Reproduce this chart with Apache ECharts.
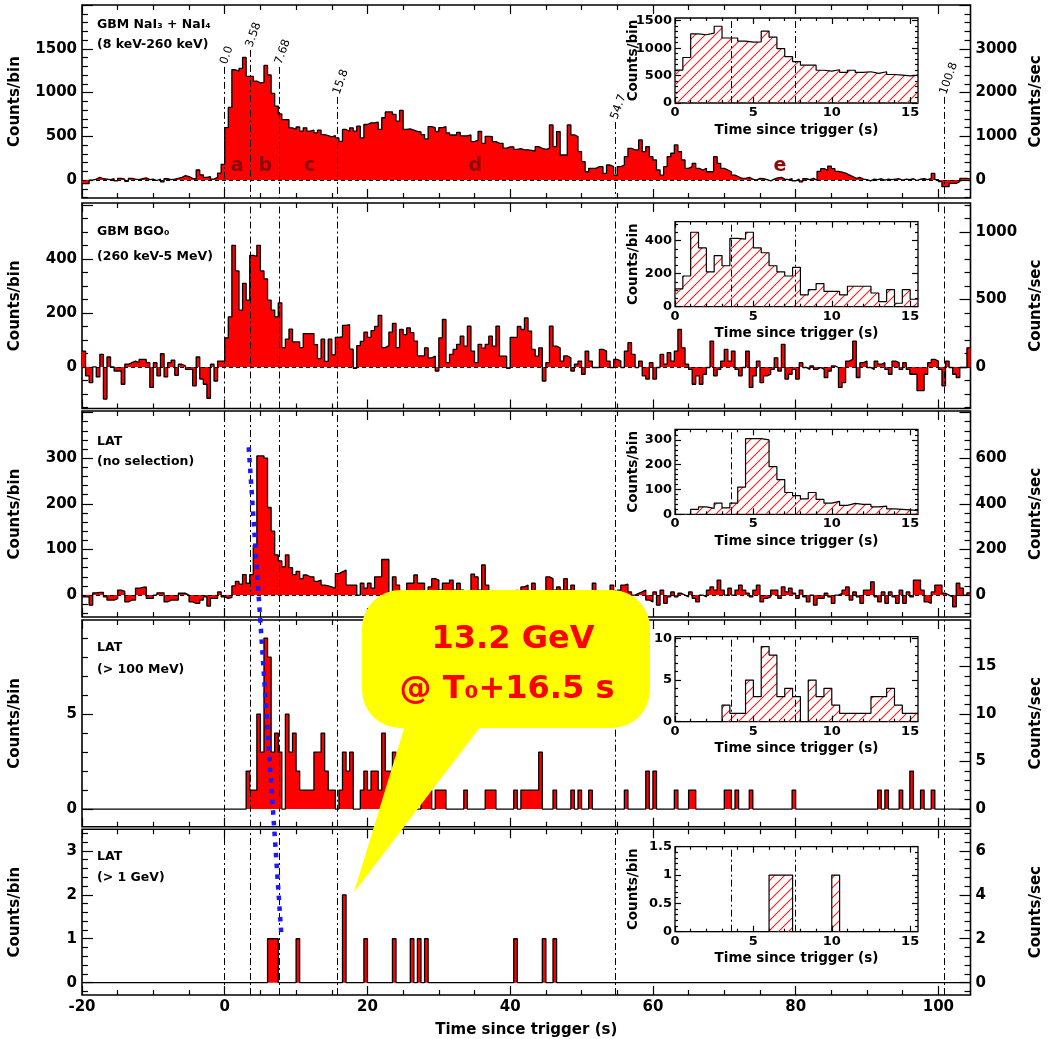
<!DOCTYPE html>
<html>
<head>
<meta charset="utf-8">
<script src="https://cdn.jsdelivr.net/npm/echarts@6/dist/echarts.min.js"></script>
<style>
html, body { margin: 0; padding: 0; background: #fff; }
#main { width: 1059px; height: 1039px; }
</style>
</head>
<body>
<div id="main"></div>
<script>
// light curves, 0.5 s bins starting at -20 s
var T0 = -20, BIN = 0.5, NBIN = 249, TMAX = 104.5;

// GBM NaI3 + NaI4 (8 keV-260 keV), counts/bin
var naiCounts = [
  -40, -40, 0, 10, 30, 15, 10, 5, 15, -10,
  20, 10, -15, 20, 10, 5, 15, 25, 5, 10,
  -5, 10, -20, 15, 5, 10, 20, 30, 50, 40,
  20, 10, 115, 60, 30, 40, 10, 30, 80, 180,
  600, 830, 1260, 1245, 1275, 1400, 1185, 1185, 1130, 1110,
  1115, 1310, 1200, 990, 845, 755, 690, 690, 597, 580,
  606, 560, 597, 558, 570, 539, 570, 520, 508, 493,
  508, 481, 443, 578, 558, 597, 558, 616, 481, 635,
  654, 654, 662, 578, 712, 778, 778, 750, 674, 797,
  578, 585, 570, 555, 550, 520, 470, 610, 600, 555,
  600, 610, 540, 515, 515, 545, 505, 505, 515, 440,
  455, 555, 420, 500, 495, 440, 420, 420, 365, 380,
  380, 350, 360, 345, 345, 340, 330, 382, 363, 351,
  363, 630, 382, 554, 286, 286, 630, 516, 497, 325,
  210, 95, 134, 134, 153, 153, 76, 172, 153, 57,
  153, 172, 267, 363, 344, 344, 458, 325, 382, 267,
  229, 115, 57, 153, 267, 306, 401, 325, 229, 134,
  153, 191, 134, 115, 134, 95, 95, 267, 191, 134,
  115, 95, 57, 38, 19, 19, 30, 11, 0, 19,
  15, 5, -10, 10, 25, 30, 10, 5, 15, -10,
  10, -20, 15, 5, 20, 0, 100, 130, 110, 160,
  130, 100, 90, 80, 60, 40, 20, 30, 10, 5,
  -10, 10, 5, 15, 0, 10, 5, 10, 15, 0,
  10, 5, 15, -5, 10, 15, 5, 20, 76, 5,
  -19, -76, -76, -38, -38, -19, 19, 19, 10
];

// GBM BGO0 (260 keV-5 MeV), counts/bin
var bgoCounts = [
  59, -33, -58, 0, -37, 47, -119, 37, 0, -15,
  -15, -64, 10, 16, 22, 16, 28, 28, 16, -76,
  16, -33, 49, -37, 16, 25, -31, 10, 4, -9,
  -9, -70, 37, -45, -64, -116, 10, -52, 22, 22,
  108, 186, 451, 356, 211, 310, 248, 414, 410, 451,
  356, 327, 248, 211, 186, 238, 72, 103, 140, 93,
  93, 72, 124, 124, 124, 83, 31, 103, 21, 103,
  45, 110, 112, 154, 157, 66, -5, 79, 95, 129,
  110, 135, 150, 191, 72, 79, 129, 162, 72, 139,
  120, 145, 127, 96, 41, 41, 71, 34, 40, -15,
  108, 176, 16, 47, 65, 84, 114, 77, 151, 59,
  16, 84, 70, 84, 114, 77, 151, 40, 40, -5,
  110, 110, 150, 139, 182, 133, 65, 40, 71, -52,
  16, 151, 77, 71, 22, 41, 34, -15, 10, 22,
  -27, 59, 22, -2, -2, 65, 59, 22, -2, 28,
  22, -2, 59, 90, 47, -2, 22, -33, -45, 16,
  -45, -2, 47, 10, 53, 22, 59, 139, 71, 10,
  -9, -64, -33, -64, -27, -2, 96, -33, -9, 22,
  65, 22, 59, -9, -33, -2, 59, -76, -33, 22,
  -58, -33, -27, -9, 34, -15, 84, -45, -27, -9,
  -45, 16, -2, -9, 4, -9, -2, -9, -39, -15,
  4, -2, -76, -58, 22, 28, 96, -39, 16, 22,
  -2, -9, 22, 10, 16, -9, -27, 22, 16, -9,
  16, -9, -27, -27, -88, -88, -27, 16, 28, 22,
  -9, -70, 22, -2, -27, -39, -2, -2, 71
];

// LAT, no selection, counts/bin
var latAllCounts = [
  -4, -4, -22, 5, 6, 6, -4, -11, -11, -8,
  11, 8, -15, -11, -11, 15, 17, 18, -7, -7,
  0, 5, 5, -15, -11, -11, -11, 4, 4, 0,
  -15, -18, -18, -11, -4, -24, -7, -7, 7, -4,
  -7, -5, 20, 30, 24, 45, 26, 45, 110, 305,
  305, 300, 192, 140, 88, 75, 62, 88, 60, 45,
  52, 36, 44, 40, 40, 30, 33, 22, 20, 18,
  15, 47, 51, 55, 22, 22, 22, 0, 26, 15,
  26, 15, 40, 40, 78, 78, 4, 40, 22, 7,
  7, 26, 26, 44, 26, 26, -18, 18, 36, 33,
  11, 26, 26, 33, 11, 26, 11, 0, 7, 46,
  40, 11, 66, 22, 5, 0, 0, -11, -11, 7,
  7, 11, -18, 18, 22, 7, 26, -15, -18, -15,
  40, 36, 11, 18, 11, 36, 11, 22, 7, 0,
  0, -7, 7, 26, 0, 4, -26, 7, 22, 5,
  11, 22, 24, 7, 0, 4, 7, 11, -11, -15,
  7, -22, 11, -18, -4, 7, -4, 4, 0, -4,
  7, -7, -15, 0, -4, 11, 18, 11, 33, 11,
  0, 15, 0, 11, 22, 11, 4, -4, 11, 22,
  -15, -7, -4, 11, 11, -7, 18, 7, 15, 4,
  -7, 11, -4, -15, 0, -22, -7, -7, 4, -4,
  -18, 0, 4, 11, 18, -11, 7, -4, -18, 11,
  11, 29, -4, -15, 7, -18, 7, -4, -18, 11,
  -18, 7, -4, 33, 33, 11, -15, -18, 7, 22,
  22, 4, 0, -4, -26, 26, 15, 0, 5
];

// LAT > 100 MeV: bin start times (s) and counts of the non-empty bins
var lat100Times = [3, 3.5, 4, 4.5, 5, 5.5, 6, 6.5, 7, 7.5, 8.5, 9, 9.5, 10, 10.5, 11, 11.5, 12, 12.5, 13,
  13.5, 14, 14.5, 15, 16, 16.5, 17, 17.5, 19, 19.5, 20, 20.5, 21, 21.5, 22, 22.5, 23, 23.5, 24, 25,
  26, 27.5, 28, 28.5, 29.5, 30, 30.5, 33.5, 36.5, 37, 37.5, 40.5, 41.5, 42, 42.5, 43, 43.5, 44, 46, 48.5,
  49.5, 51, 56, 59, 60, 63, 65, 65.5, 70, 70.5, 71.5, 73.5, 79.5, 91.5, 92.5, 94.5, 96, 97.5, 99];
var lat100Counts = [2, 1, 1, 5, 3, 9, 8, 3, 4, 3, 5, 3, 4, 2, 1, 1, 1, 1, 3, 3,
  4, 2, 1, 1, 1, 3, 2, 3, 1, 2, 1, 2, 2, 1, 4, 2, 2, 3, 1, 2,
  1, 1, 1, 1, 1, 1, 1, 1, 1, 1, 1, 1, 1, 1, 1, 1, 1, 3, 1, 1,
  1, 1, 1, 2, 2, 1, 1, 1, 1, 1, 1, 1, 1, 1, 1, 1, 2, 1, 1];

// LAT > 1 GeV
var lat1GeVTimes = [6, 6.5, 7, 10, 16.5, 19.5, 23.5, 26, 27, 28, 40.5, 44.5, 46];
var lat1GeVCounts = [1, 1, 1, 1, 2, 1, 1, 1, 1, 1, 1, 1, 1];

// time intervals a..e
var intervalEdges = [0, 3.58, 7.68, 15.8, 54.7, 100.8];
var intervalText = ['0.0', '3.58', '7.68', '15.8', '54.7', '100.8'];
var intervalLetters = ['a', 'b', 'c', 'd', 'e'];
var insetEdges = [3.58, 7.68];

var FONT = '"DejaVu Sans", Verdana, sans-serif';
var RATE = 2; // counts/sec per counts/bin (0.5 s bins)

var layout = [
  { top: 5, bottom: 198, min: -205, max: 2000, major: 500, minor: 100, rMajor: 1000, rMinor: 200,
    text: ['GBM NaI\u2083 + NaI\u2084', '(8 keV-260 keV)'], textY: [25, 45], zeroDash: true,
    inset: { top: 18, max: 1550, major: 500, minor: 100, name: true },
    lineTops: [1293, 1487, 1293, 950, 664, 950] },
  { top: 203, bottom: 408.5, min: -154, max: 608, major: 200, minor: 50, rMajor: 500, rMinor: 100,
    text: ['GBM BGO\u2080', '(260 keV-5 MeV)'], textY: [232, 257], zeroDash: true,
    inset: { top: 221.7, max: 515, major: 200, minor: 50, name: true } },
  { top: 411, bottom: 617, min: -48, max: 403.5, major: 100, minor: 20, rMajor: 200, rMinor: 40,
    text: ['LAT', '(no selection)'], textY: [442, 462], zeroDash: true,
    inset: { top: 429.3, max: 343, major: 100, minor: 20, name: true } },
  { top: 620, bottom: 826.7, min: -0.93, max: 9.95, major: 5, minor: 1, rMajor: 5, rMinor: 1,
    text: ['LAT', '(> 100 MeV)'], textY: [648, 670], zeroDash: false,
    inset: { top: 636.7, max: 10.2, major: 5, minor: 1, name: false } },
  { top: 829.3, bottom: 996.7, min: -0.28, max: 3.49, major: 1, minor: 0.2, rMajor: 2, rMinor: 0.4,
    text: ['LAT', '(> 1 GeV)'], textY: [857, 878], zeroDash: false,
    inset: { top: 846.7, max: 1.5, major: 0.5, minor: 0.1, name: true } }
];

function dense(times, counts) {
  var a = [];
  for (var i = 0; i < NBIN; i++) a.push(0);
  times.forEach(function (t, k) { a[Math.round((t - T0) / BIN)] = counts[k]; });
  return a;
}
var panelCounts = [naiCounts, bgoCounts, latAllCounts, dense(lat100Times, lat100Counts), dense(lat1GeVTimes, lat1GeVCounts)];

function histPoints(counts, from, to) {
  var pts = [];
  for (var i = 0; i < counts.length; i++) {
    var t = T0 + i * BIN;
    if (t < from - 1e-6 || t > to - BIN + 1e-6) continue;
    pts.push([t, counts[i]]);
  }
  var last = pts[pts.length - 1];
  pts.push([last[0] + BIN, last[1]]);
  return pts;
}
function multiples(min, max, step) {
  var out = [], k = Math.ceil(min / step - 1e-9);
  while (k * step <= max + 1e-9) { out.push(+(k * step).toFixed(6)); k++; }
  return out;
}
function minorsOf(min, max, step, major) {
  return multiples(min, max, step).filter(function (v) {
    return Math.abs(v / major - Math.round(v / major)) > 1e-6;
  });
}

// red hatch for the insets
var hatchCanvas = document.createElement('canvas');
hatchCanvas.width = 10; hatchCanvas.height = 10;
(function () {
  var c = hatchCanvas.getContext('2d');
  c.strokeStyle = 'rgb(255,30,30)'; c.lineWidth = 1.1;
  c.beginPath();
  c.moveTo(0, 10); c.lineTo(10, 0);
  c.moveTo(-1, 1); c.lineTo(1, -1);
  c.moveTo(9, 11); c.lineTo(11, 9);
  c.stroke();
})();
var hatchUrl = hatchCanvas.toDataURL('image/png');

var grids = [], xAxes = [], yAxes = [], series = [];
var tickStyle = { color: '#000', width: 1.2 };
function plainNum(v) { return String(+(+v).toFixed(6)); }

function makeAxis(list, gi, pos, min, max, ticks, len, labels, size, extra) {
  var a = {
    type: 'value', gridIndex: gi, position: pos, min: min, max: max,
    axisLine: { show: false, onZero: false }, splitLine: { show: false },
    axisTick: { show: true, inside: true, length: len, customValues: ticks, lineStyle: tickStyle },
    axisLabel: labels ? { show: true, customValues: labels, formatter: plainNum, fontFamily: FONT, fontWeight: 'bold',
      fontSize: size, color: '#000', margin: size > 14 ? 5 : 3 } : { show: false },
    nameMoveOverlap: false
  };
  for (var k in extra || {}) a[k] = extra[k];
  list.push(a);
  return list.length - 1;
}
function nameStyle(size) {
  return { fontFamily: FONT, fontWeight: 'bold', fontSize: size, color: '#000' };
}

var MAIN_LEFT = 81.5, MAIN_W = 889;
var INSET_LEFT = 675, INSET_W = 243, INSET_H = 85;
var xMajor = multiples(-20, TMAX, 20), xMinor = minorsOf(-20, TMAX, 5, 20);
var ixMajor = multiples(0, 15.5, 5), ixMinor = minorsOf(0, 15.5, 1, 5);
var refs = [];

layout.forEach(function (p, i) {
  var last = i === layout.length - 1;
  var gi = grids.length;
  grids.push({ left: MAIN_LEFT, width: MAIN_W, top: p.top, height: p.bottom - p.top, show: true,
    borderColor: '#000', borderWidth: 1.6, backgroundColor: 'transparent' });
  var xi = makeAxis(xAxes, gi, 'bottom', -20, TMAX, xMajor, 9, last ? xMajor : null, 15,
    last ? { name: 'Time since trigger (s)', nameLocation: 'middle', nameGap: 28, nameTextStyle: nameStyle(15) } : {});
  makeAxis(xAxes, gi, 'bottom', -20, TMAX, xMinor, 5);
  makeAxis(xAxes, gi, 'top', -20, TMAX, xMajor, 9);
  makeAxis(xAxes, gi, 'top', -20, TMAX, xMinor, 5);
  var span = p.max - p.min;
  var yi = makeAxis(yAxes, gi, 'left', p.min, p.max, multiples(p.min, p.max, p.major), 11,
    multiples(p.min, p.max - 0.05 * span, p.major), 15,
    { name: 'Counts/bin', nameLocation: 'middle', nameGap: 59, nameRotate: 90, nameTextStyle: nameStyle(15) });
  makeAxis(yAxes, gi, 'left', p.min, p.max, minorsOf(p.min, p.max, p.minor, p.major), 6);
  var rmin = p.min * RATE, rmax = p.max * RATE;
  makeAxis(yAxes, gi, 'right', rmin, rmax, multiples(rmin, rmax, p.rMajor), 11,
    multiples(rmin, rmax - 0.05 * span * RATE, p.rMajor), 15,
    { name: 'Counts/sec', nameLocation: 'middle', nameGap: 58, nameRotate: 90, nameTextStyle: nameStyle(15) });
  makeAxis(yAxes, gi, 'right', rmin, rmax, minorsOf(rmin, rmax, p.rMinor, p.rMajor), 6);

  var lines = [];
  intervalEdges.forEach(function (t, k) {
    if (p.lineTops) lines.push([{ coord: [t, p.lineTops[k]] }, { coord: [t, p.min] }]);
    else lines.push({ xAxis: t });
  });
  if (p.zeroDash) lines.push({ yAxis: 0, lineStyle: { type: [4, 3], width: 1, color: '#000' } });

  series.push({
    type: 'line', xAxisIndex: xi, yAxisIndex: yi, step: 'end', symbol: 'none', silent: true,
    data: histPoints(panelCounts[i], -20, TMAX),
    lineStyle: { color: '#000', width: 1.3 },
    areaStyle: { color: '#ff0000', opacity: 1 },
    markLine: { silent: true, symbol: ['none', 'none'], label: { show: false }, animation: false,
      lineStyle: { color: '#000', width: 1, type: [7, 3, 2, 3] }, data: lines }
  });

  // inset with the first 15.5 s
  var q = p.inset;
  var ig = grids.length;
  grids.push({ left: INSET_LEFT, width: INSET_W, top: q.top, height: INSET_H, show: true,
    borderColor: '#000', borderWidth: 1.3, backgroundColor: '#fff', z: 3 });
  var ixi = makeAxis(xAxes, ig, 'bottom', 0, 15.5, ixMajor, 6, ixMajor, 13,
    { name: 'Time since trigger (s)', nameLocation: 'middle', nameGap: 20, nameTextStyle: nameStyle(13.5), z: 4 });
  makeAxis(xAxes, ig, 'bottom', 0, 15.5, ixMinor, 3, null, 13, { z: 4 });
  makeAxis(xAxes, ig, 'top', 0, 15.5, ixMajor, 6, null, 13, { z: 4 });
  makeAxis(xAxes, ig, 'top', 0, 15.5, ixMinor, 3, null, 13, { z: 4 });
  var iyMajor = multiples(0, q.max, q.major);
  var iyi = makeAxis(yAxes, ig, 'left', 0, q.max, iyMajor, 6, iyMajor, 13,
    q.name ? { name: 'Counts/bin', nameLocation: 'middle', nameGap: 35, nameRotate: 90, nameTextStyle: nameStyle(13.5), z: 4 } : { z: 4 });
  makeAxis(yAxes, ig, 'left', 0, q.max, minorsOf(0, q.max, q.minor, q.major), 3, null, 13, { z: 4 });
  makeAxis(yAxes, ig, 'right', 0, q.max, iyMajor, 6, null, 13, { z: 4 });
  makeAxis(yAxes, ig, 'right', 0, q.max, minorsOf(0, q.max, q.minor, q.major), 3, null, 13, { z: 4 });
  series.push({
    type: 'line', xAxisIndex: ixi, yAxisIndex: iyi, step: 'end', symbol: 'none', silent: true, z: 4,
    data: histPoints(panelCounts[i], 0, 15.5),
    lineStyle: { color: '#000', width: 1.2 },
    areaStyle: { color: { image: hatchUrl, repeat: 'repeat' }, opacity: 1 },
    markLine: { silent: true, symbol: ['none', 'none'], label: { show: false }, animation: false, z: 6,
      lineStyle: { color: '#000', width: 1, type: [7, 3, 2, 3] },
      data: insetEdges.map(function (t) { return { xAxis: t }; }) }
  });
  refs.push({ xi: xi, yi: yi });
});

var chart = echarts.init(document.getElementById('main'), null, { renderer: 'canvas' });
chart.setOption({
  animation: false,
  backgroundColor: '#fff',
  grid: grids, xAxis: xAxes, yAxis: yAxes, series: series
});

function px(panel, pt) {
  return chart.convertToPixel({ xAxisIndex: refs[panel].xi, yAxisIndex: refs[panel].yi }, pt);
}
function txt(x, y, s, size, opts) {
  var st = { text: s, x: 0, y: 0, fill: '#000', fontFamily: FONT, fontWeight: 'bold', fontSize: size,
    align: 'left', textAlign: 'left', verticalAlign: 'middle', textVerticalAlign: 'middle' };
  for (var k in (opts && opts.style) || {}) st[k] = opts.style[k];
  return { type: 'text', x: x, y: y, rotation: (opts && opts.rotation) || 0, z: 100, silent: true, style: st };
}

var g = [];
layout.forEach(function (p) {
  g.push(txt(97, p.textY[0], p.text[0], 12.5));
  g.push(txt(97, p.textY[1], p.text[1], 12.5));
});
intervalEdges.forEach(function (t, k) {
  var a = px(0, [t, layout[0].lineTops[k]]);
  g.push(txt(a[0] - 1, a[1] - 3, intervalText[k], 11.5, { rotation: 70 * Math.PI / 180, style: { fontWeight: 'normal' } }));
});
var letterAt = [[1.75, 165], [5.7, 165], [11.9, 165], [35.1, 165], [77.8, 165]];
intervalLetters.forEach(function (s, k) {
  var a = px(0, letterAt[k]);
  g.push(txt(a[0], a[1], s, 19, { style: { fill: '#8b0a0a', align: 'center', textAlign: 'center' } }));
});

// blue dotted guide line from the LAT onset down to the > 1 GeV panel
var b0 = px(2, [3.36, 324]), b1 = px(4, [7.94, 1.07]);
g.push({ type: 'line', z: 100, silent: true, shape: { x1: b0[0], y1: b0[1], x2: b1[0], y2: b1[1] },
  style: { stroke: '#1a1aff', lineWidth: 4.5, lineDash: [4.5, 6.2] } });

// callout bubble pointing at the 13.2 GeV photon
var tip = px(4, [18.1, 2.05]);
g.push({ type: 'rect', z: 90, silent: true, shape: { x: 362, y: 590, width: 288, height: 138, r: 38 },
  style: { fill: '#ffff00' } });
g.push({ type: 'polygon', z: 90, silent: true, shape: { points: [[406, 722], [484, 722], tip] },
  style: { fill: '#ffff00' } });
g.push(txt(513, 640, '13.2 GeV', 32, { style: { fill: '#ff0000', align: 'center', textAlign: 'center' } }));
g.push(txt(507, 690, '@ T\u2080+16.5 s', 32, { style: { fill: '#ff0000', align: 'center', textAlign: 'center' } }));

chart.setOption({ graphic: { elements: g } });
</script>
</body>
</html>
